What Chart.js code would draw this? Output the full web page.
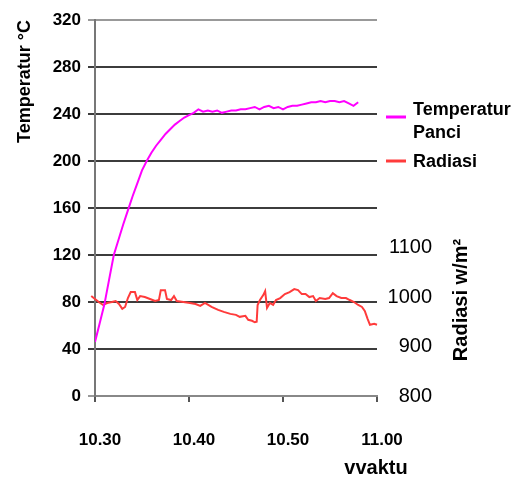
<!DOCTYPE html>
<html lang="id">
<head>
<meta charset="UTF-8">
<title>Temperatur Panci dan Radiasi</title>
<script src="https://cdn.jsdelivr.net/npm/chart.js"></script>
<style>
    body { margin: 0; background: #fff; }
    .wadah { position: relative; width: 524px; height: 477px; }
</style>
</head>
<body>
<div class="wadah">
    <canvas id="grafik"></canvas>
</div>
<script>
    // waktu dalam menit sejak 10.30
    const xTickLabels = ['10.30', '10.40', '10.50', '11.00'];

    const tempMenit = [0, 0.5, 1, 1.5, 2, 2.5, 3, 3.5, 4, 4.5, 5, 5.5, 6, 6.5, 7, 7.5, 8, 8.5, 9, 9.5,
        10, 10.5, 11, 11.5, 12, 12.5, 13, 13.5, 14, 14.5, 15, 15.5, 16, 16.5, 17, 17.5, 18, 18.5, 19, 19.5,
        20, 20.5, 21, 21.5, 22, 22.5, 23, 23.5, 24, 24.5, 25, 25.5, 26, 26.5, 27, 27.5, 28];
    const tempNilai = [46, 62, 78, 99, 120, 133, 146, 158, 170, 181, 192, 200, 207, 213, 218, 223, 227, 231, 234, 237,
        239, 241, 244, 242, 243, 242, 243, 241, 242, 243, 243, 244, 244, 245, 246, 244, 246, 247, 245, 246,
        244, 246, 247, 247, 248, 249, 250, 250, 251, 250, 251, 251, 250, 251, 249, 247, 250];

    const radMenit = [-0.74, -0.4, 0, 0.4, 0.85, 1.3, 1.8, 2.2, 2.55, 2.9, 3.2, 3.5, 3.8, 4.25, 4.5, 4.8, 5.3, 5.85,
        6.4, 6.8, 7.0, 7.45, 7.65, 8.1, 8.4, 8.7, 9.4, 10.1, 10.7, 11.2, 11.7, 12.4, 13.1, 13.7, 14.4, 15.0,
        15.4, 16.0, 16.3, 16.7, 17.0, 17.2, 17.3, 17.55, 17.9, 18.1, 18.3, 18.6, 18.95, 19.25, 19.7, 20.2,
        20.7, 21.2, 21.6, 22.0, 22.4, 22.8, 23.2, 23.5, 23.9, 24.5, 24.9, 25.3, 25.7, 26.2, 26.7, 27.1,
        27.55, 28.0, 28.4, 28.7, 29.0, 29.25, 29.7, 30.0];
    const radNilai = [1004, 1002, 996, 990, 984, 988, 990, 992, 986, 976, 980, 998, 1010, 1010, 994, 1002, 1000, 996,
        992, 994, 1014, 1014, 996, 994, 1002, 992, 990, 988, 986, 982, 988, 980, 974, 970, 966, 964,
        960, 962, 954, 952, 949, 950, 984, 994, 1004, 1012, 978, 988, 984, 994, 998, 1006,
        1010, 1016, 1014, 1006, 1006, 1000, 1002, 992, 998, 996, 998, 1008, 1002, 998, 998, 994,
        990, 984, 980, 972, 956, 944, 946, 944];

    const tempTicks = [0, 40, 80, 120, 160, 200, 240, 280, 320];
    const radTicksShown = [800, 900, 1000, 1100];

    const huruf = "'Liberation Sans', Arial, sans-serif";

    const dataTemp = tempMenit.map((m, i) => ({ x: m, y: tempNilai[i] }));
    const dataRad = radMenit.map((m, i) => ({ x: m, y: radNilai[i] }));

    const tulisanTambahan = {
        id: 'tulisanTambahan',
        afterDraw(chart) {
            const ctx = chart.ctx;
            ctx.save();
            // judul sumbu kanan
            ctx.translate(461, 300);
            ctx.rotate(-Math.PI / 2);
            ctx.fillStyle = '#000';
            ctx.font = 'bold 20px ' + huruf;
            ctx.textAlign = 'center';
            ctx.textBaseline = 'middle';
            ctx.fillText('Radiasi w/m\u00B2', 0, 0);
            ctx.restore();

            ctx.save();
            ctx.fillStyle = '#000';
            ctx.font = 'bold 20px ' + huruf;
            ctx.textAlign = 'center';
            ctx.textBaseline = 'middle';
            ctx.fillText('vvaktu', 376, 468);

            // legenda
            const ds = chart.data.datasets;
            ctx.font = 'bold 18px ' + huruf;
            ctx.textAlign = 'left';
            ctx.lineWidth = 3;
            ctx.strokeStyle = ds[0].borderColor;
            ctx.beginPath(); ctx.moveTo(386, 117); ctx.lineTo(406, 117); ctx.stroke();
            ctx.fillText('Temperatur', 413, 110);
            ctx.fillText('Panci', 413, 133);
            ctx.strokeStyle = ds[1].borderColor;
            ctx.beginPath(); ctx.moveTo(386, 161); ctx.lineTo(406, 161); ctx.stroke();
            ctx.fillText(ds[1].label, 413, 162);
            ctx.restore();
        }
    };

    new Chart(document.getElementById('grafik'), {
        type: 'line',
        data: {
            datasets: [
                {
                    label: 'Temperatur Panci',
                    data: dataTemp,
                    borderColor: '#ff00ff',
                    borderWidth: 2,
                    pointRadius: 0,
                    tension: 0,
                    yAxisID: 'y'
                },
                {
                    label: 'Radiasi',
                    data: dataRad,
                    borderColor: '#ff3b3b',
                    borderWidth: 2,
                    pointRadius: 0,
                    tension: 0,
                    clip: false,
                    yAxisID: 'y1'
                }
            ]
        },
        options: {
            responsive: true,
            maintainAspectRatio: false,
            animation: false,
            layout: { padding: { top: 16, left: 0, right: 92, bottom: 0 } },
            plugins: { legend: { display: false }, tooltip: { enabled: false } },
            scales: {
                x: {
                    type: 'linear',
                    min: 0,
                    max: 30,
                    afterFit(s) { s.height = 81; },
                    afterBuildTicks(s) { s.ticks = [0, 10, 20, 30].map(v => ({ value: v })); },
                    ticks: {
                        padding: 28,
                        maxRotation: 0,
                        labelOffset: 5,
                        color: '#000',
                        font: { family: huruf, size: 17, weight: 'bold' },
                        callback: (v) => xTickLabels[Math.round(v / 10)]
                    },
                    grid: { drawOnChartArea: false, tickLength: 6, color: '#555', lineWidth: 2 },
                    border: { color: '#888', width: 2 }
                },
                y: {
                    position: 'left',
                    min: 0,
                    max: 320,
                    afterFit(s) { s.width = 95; },
                    afterBuildTicks(s) { s.ticks = tempTicks.map(v => ({ value: v })); },
                    ticks: {
                        padding: 7,
                        color: '#000',
                        font: { family: huruf, size: 17, weight: 'bold' }
                    },
                    grid: {
                        tickLength: 7,
                        lineWidth: 2,
                        color: (c) => (c.tick && (c.tick.value === 320 || c.tick.value === 0)) ? '#999' : '#3c3c3c'
                    },
                    border: { color: '#777', width: 2 },
                    title: {
                        display: true,
                        text: 'Temperatur \u00B0C',
                        align: 'end',
                        color: '#000',
                        padding: { top: 14, bottom: 0 },
                        font: { family: huruf, size: 18, weight: 'bold' }
                    }
                },
                y1: {
                    position: 'right',
                    min: 800,
                    max: 1560,
                    afterFit(s) { s.width = 55; },
                    afterBuildTicks(s) { s.ticks = radTicksShown.map(v => ({ value: v })); },
                    ticks: {
                        padding: 8,
                        crossAlign: 'far',
                        color: '#000',
                        font: { family: huruf, size: 20 },
                        callback: (v) => String(v)
                    },
                    grid: { display: false },
                    border: { display: false }
                }
            }
        },
        plugins: [tulisanTambahan]
    });
</script>
</body>
</html>
